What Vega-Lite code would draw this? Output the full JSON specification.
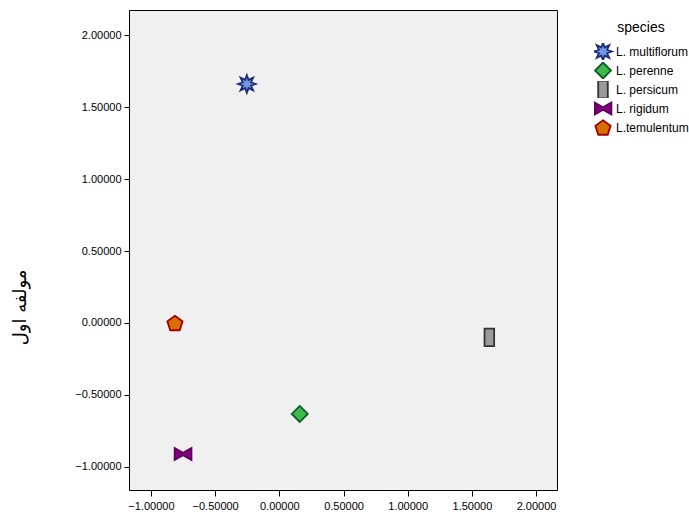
{
  "$schema": "https://vega.github.io/schema/vega-lite/v6.json",
  "width": 428,
  "height": 480,
  "autosize": "none",
  "padding": {"left": 129, "top": 10, "right": 132, "bottom": 22},
  "background": "white",
  "config": {
    "view": {"fill": "#f0f0f0", "stroke": "#000000", "strokeWidth": 1},
    "font": "Liberation Sans"
  },
  "data": {
    "values": [
      {"species": "L. multiflorum", "x": -0.253, "y": 1.66},
      {"species": "L. perenne", "x": 0.159, "y": -0.632},
      {"species": "L. persicum", "x": 1.636, "y": -0.1},
      {"species": "L. rigidum", "x": -0.75, "y": -0.91},
      {"species": "L.temulentum", "x": -0.813, "y": 0.0}
    ]
  },
  "mark": {"type": "point", "filled": true, "strokeWidth": 1.8, "opacity": 1, "size": 256},
  "encoding": {
    "x": {
      "field": "x", "type": "quantitative",
      "scale": {"domain": [-1.171, 2.163], "nice": false, "zero": false},
      "axis": {
        "title": null, "values": [-1, -0.5, 0, 0.5, 1, 1.5, 2], "format": ".5f",
        "domain": false, "grid": false, "tickColor": "#000000", "tickSize": 6,
        "labelColor": "#000000", "labelFontSize": 11, "labelPadding": 4, "labelFont": "Liberation Sans"
      }
    },
    "y": {
      "field": "y", "type": "quantitative",
      "scale": {"domain": [-1.16, 2.174], "nice": false, "zero": false},
      "axis": {
        "title": "مولفه اول", "values": [-1, -0.5, 0, 0.5, 1, 1.5, 2], "format": ".5f",
        "domain": false, "grid": false, "tickColor": "#000000", "tickSize": 5,
        "labelColor": "#000000", "labelFontSize": 11, "labelPadding": 3, "labelFont": "Liberation Sans",
        "titleFont": "DejaVu Sans", "titleFontSize": 18, "titleFontWeight": "normal", "titleColor": "#000000",
        "titleAngle": -90, "titleX": -109, "titleY": 297, "titleAlign": "center", "titleBaseline": "middle"
      }
    },
    "shape": {
      "field": "species", "type": "nominal",
      "scale": {
        "domain": ["L. multiflorum", "L. perenne", "L. persicum", "L. rigidum", "L.temulentum"],
        "range": [
          "M0,-1.1L0.21,-0.51L0.78,-0.78L0.51,-0.21L1.1,0L0.51,0.21L0.78,0.78L0.21,0.51L0,1.1L-0.21,0.51L-0.78,0.78L-0.51,0.21L-1.1,0L-0.51,-0.21L-0.78,-0.78L-0.21,-0.51Z",
          "M0,-1L1,0L0,1L-1,0Z",
          "M-0.6,-1.1L0.6,-1.1L0.6,1.1L-0.6,1.1Z",
          "M-1.05,-0.75L0,-0.15L1.05,-0.75L1.05,0.75L0,0.15L-1.05,0.75Z",
          "M0,-0.905L0.951,-0.214L0.588,0.904L-0.588,0.904L-0.951,-0.214Z"
        ]
      },
      "legend": {
        "title": "species", "orient": "none", "legendX": 465, "legendY": 11,
        "titleAnchor": "middle", "titleFontSize": 14, "titleFontWeight": "normal", "titleColor": "#000000",
        "titleFont": "Liberation Sans", "titlePadding": 8,
        "labelFontSize": 12, "labelColor": "#000000", "labelFont": "Liberation Sans", "labelOffset": 4,
        "symbolSize": 256, "symbolStrokeWidth": 1.8, "rowPadding": 2, "clipHeight": 17, "symbolOpacity": 1
      }
    },
    "fill": {
      "field": "species", "type": "nominal",
      "scale": {
        "domain": ["L. multiflorum", "L. perenne", "L. persicum", "L. rigidum", "L.temulentum"],
        "range": ["#7598e4", "#3dba4a", "#9a9a9a", "#800080", "#d96e00"]
      },
      "legend": {"title": "species"}
    },
    "stroke": {
      "field": "species", "type": "nominal",
      "scale": {
        "domain": ["L. multiflorum", "L. perenne", "L. persicum", "L. rigidum", "L.temulentum"],
        "range": ["#1f2d7a", "#0e5c2a", "#333333", "#5e005e", "#a00000"]
      },
      "legend": {"title": "species"}
    }
  }
}
